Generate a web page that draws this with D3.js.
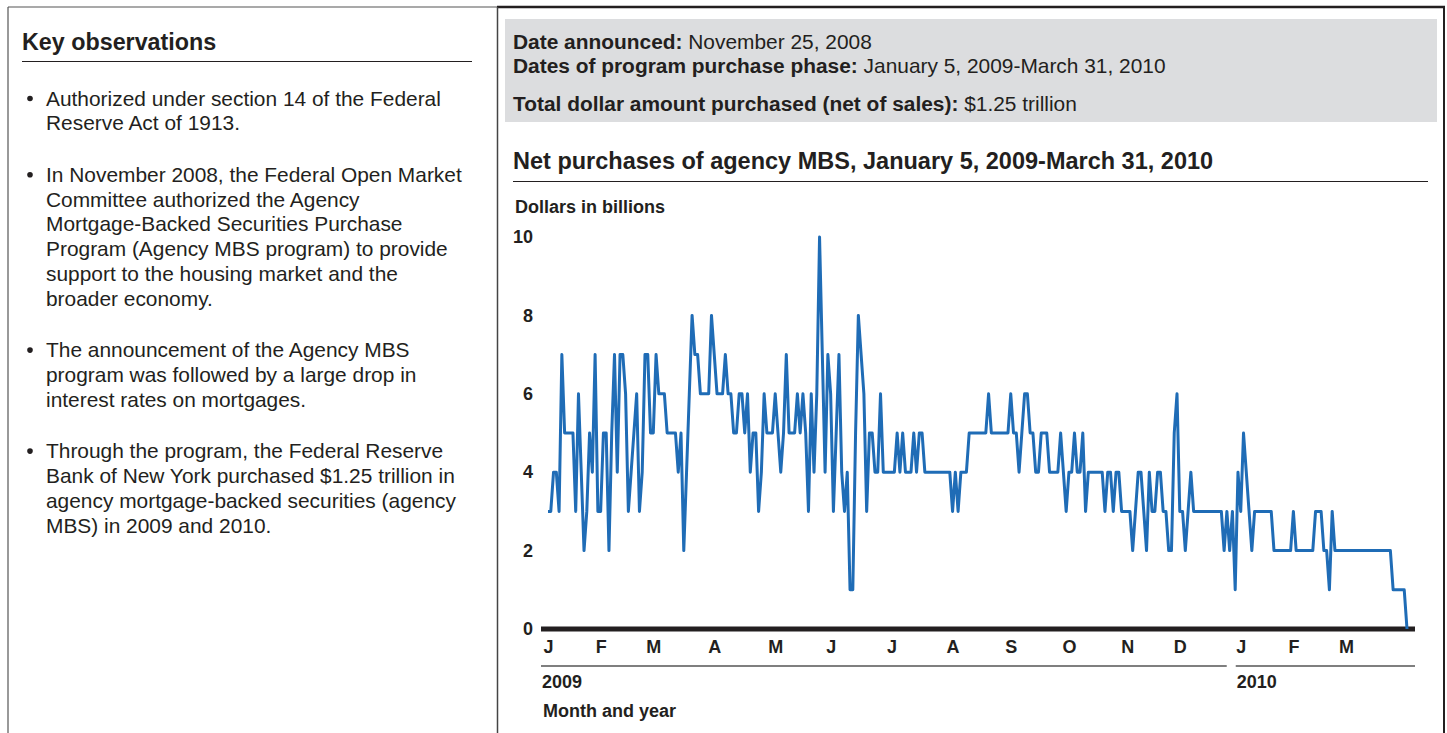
<!DOCTYPE html>
<html>
<head>
<meta charset="utf-8">
<script src="https://cdn.jsdelivr.net/npm/d3@7"></script>
<style>
  body { margin: 0; background: #fff; }
  svg text { font-family: "Liberation Sans", Arial, Helvetica, sans-serif; fill: #231f20; }
  .bold { font-weight: bold; }
</style>
</head>
<body>
<div id="chart"></div>
<script>
// net purchases, $ billions, one value per trading day
const jan09 = [3,3,4,4,3,7,5,5,5,5,3,6,4,2,3,5,4,7,3];
const feb09 = [3,5,5,2,5,7,4,7,7,6,3,4,5,6,3,4,7,7,5];
const mar09 = [5,7,6,6,6,5,5,5,5,4,5,2,4,6,8,7,7,6,6,6,6,8];
const apr09 = [7,6,6,6,7,6,6,5,5,6,6,5,6,4,5,5,3,4,6,5,5,5];
const may09 = [6,5,4,5,7,5,5,5,6,5,6,5,3,6,4,6,10,7,4,7];
const jun09 = [6,3,5,7,4,3,4,1,1,5,8,7,6,3,5,5,4,4,6,4,4,4];
const jul09 = [4,4,5,4,5,4,4,4,5,4,5,5,4,4,4,4,4,4,4,4,4,4];
const aug09 = [3,4,3,4,4,4,5,5,5,5,5,5,5,6,5,5,5,5,5,5,5];
const sep09 = [6,5,5,4,5,6,6,5,5,4,4,5,5,5,4,4,4,4,5,4,3];
const oct09 = [4,4,5,4,4,5,3,4,4,4,4,4,4,3,4,4,3,4,4,3,3];
const nov09 = [3,3,2,3,4,4,3,2,4,3,3,4,4,3,3,2,2,5,6];
const dec09 = [3,3,2,3,4,3,3,3,3,3,3,3,3,3,3,3,2,3,2,3,1,4];
const jan10 = [3,5,4,3,2,3,3,3,3,3,3,3,2,2,2,2,2,2,2];
const feb10 = [3,2,2,2,2,2,2,2,3,3,3,2,2,1,3,2,2,2,2];
const mar10 = [2,2,2,2,2,2,2,2,2,2,2,2,2,2,2,2,2,1,1,1,1,1,0];

// market holidays inside the purchase window
const holidays = ["2009-01-19","2009-02-16","2009-05-25","2009-07-03","2009-09-07",
  "2009-10-12","2009-11-11","2009-11-26","2009-12-25","2010-01-01","2010-01-18","2010-02-15"];

const monthLetters = ["J","F","M","A","M","J","J","A","S","O","N","D"];
const yTicks = [0, 2, 4, 6, 8, 10];
const years = ["2009", "2010"];

const bullets = [
  ["Authorized under section 14 of the Federal", "Reserve Act of 1913."],
  ["In November 2008, the Federal Open Market", "Committee authorized the Agency",
   "Mortgage-Backed Securities Purchase", "Program (Agency MBS program) to provide",
   "support to the housing market and the", "broader economy."],
  ["The announcement of the Agency MBS", "program was followed by a large drop in",
   "interest rates on mortgages."],
  ["Through the program, the Federal Reserve", "Bank of New York purchased $1.25 trillion in",
   "agency mortgage-backed securities (agency", "MBS) in 2009 and 2010."]
];

const width = 1447, height = 733;
const plot = { left: 548, right: 1407, top: 237, bottom: 629 };
const lineColor = "#1f6cb6";
const smallFont = "18px";

const values = [].concat(jan09, feb09, mar09, apr09, may09, jun09, jul09, aug09,
  sep09, oct09, nov09, dec09, jan10, feb10, mar10);

// trading days jan 5 2009 - mar 31 2010
const fmt = d3.timeFormat("%Y-%m-%d");
let days = d3.timeDays(new Date(2009, 0, 5), new Date(2010, 3, 1))
  .filter(d => d.getDay() !== 0 && d.getDay() !== 6 && !holidays.includes(fmt(d)));

let data = days.map((d, i) => ({ date: d, i: i, value: values[i] }));

let monthStarts = data.filter((d, i) => i === 0 || d.date.getMonth() !== data[i - 1].date.getMonth());

const svg = d3.select("#chart")
  .append("svg")
  .attr("width", width)
  .attr("height", height);

// frame
svg.append("line").attr("x1", 8).attr("x2", 497).attr("y1", 7).attr("y2", 7)
  .attr("stroke", "#555").attr("stroke-width", 1.2);
svg.append("line").attr("x1", 497).attr("x2", 1445).attr("y1", 7).attr("y2", 7)
  .attr("stroke", "#231f20").attr("stroke-width", 2.4);
svg.append("line").attr("x1", 8).attr("x2", 8).attr("y1", 7).attr("y2", height)
  .attr("stroke", "#555").attr("stroke-width", 1.2);
svg.append("line").attr("x1", 497.5).attr("x2", 497.5).attr("y1", 7).attr("y2", height)
  .attr("stroke", "#444").attr("stroke-width", 1.5);
svg.append("line").attr("x1", 1444).attr("x2", 1444).attr("y1", 6).attr("y2", height)
  .attr("stroke", "#231f20").attr("stroke-width", 2);

// left panel
svg.append("text").attr("class", "bold")
  .attr("x", 22).attr("y", 50)
  .style("font-size", "23.3px")
  .text("Key observations");
svg.append("line").attr("x1", 22).attr("x2", 472).attr("y1", 61.5).attr("y2", 61.5)
  .attr("stroke", "#231f20").attr("stroke-width", 1.2);

let by = 105.5;
bullets.forEach(lines => {
  svg.append("circle").attr("cx", 30).attr("cy", by - 7).attr("r", 2.8).attr("fill", "#231f20");
  lines.forEach((t, k) => {
    svg.append("text")
      .attr("x", 46).attr("y", by + k * 24.8)
      .style("font-size", "20.9px")
      .text(t);
  });
  by += lines.length * 24.8 + 26.6;
});

// header box
svg.append("rect").attr("x", 505).attr("y", 19).attr("width", 932).attr("height", 103)
  .attr("fill", "#dcdddf");

function labelLine(y, bold, normal) {
  const t = svg.append("text").attr("x", 513).attr("y", y).style("font-size", "20.9px");
  t.append("tspan").attr("class", "bold").text(bold);
  t.append("tspan").text(" " + normal);
}
labelLine(48.5, "Date announced:", "November 25, 2008");
labelLine(72.5, "Dates of program purchase phase:", "January 5, 2009-March 31, 2010");
labelLine(110.5, "Total dollar amount purchased (net of sales):", "$1.25 trillion");

svg.append("text").attr("class", "bold")
  .attr("x", 513).attr("y", 168.5)
  .style("font-size", "23.5px")
  .text("Net purchases of agency MBS, January 5, 2009-March 31, 2010");
svg.append("line").attr("x1", 513).attr("x2", 1428).attr("y1", 181.5).attr("y2", 181.5)
  .attr("stroke", "#231f20").attr("stroke-width", 1.2);

svg.append("text").attr("class", "bold")
  .attr("x", 515).attr("y", 212.5)
  .style("font-size", smallFont)
  .text("Dollars in billions");

// scales
const xScale = d3.scaleLinear()
  .domain([0, data.length - 1])
  .range([plot.left, plot.right]);

const yScale = d3.scaleLinear()
  .domain([0, 10])
  .range([plot.bottom, plot.top]);

const yAxis = d3.axisLeft(yScale).tickValues(yTicks).tickSize(0).tickPadding(0);
svg.append("g")
  .attr("class", "axis y-axis")
  .attr("transform", "translate(533,0)")
  .call(yAxis)
  .call(g => g.select(".domain").remove())
  .call(g => g.selectAll("text")
    .attr("class", "bold")
    .style("font-size", smallFont)
    .style("font-family", "'Liberation Sans', Arial, sans-serif")
    .attr("fill", "#231f20"));

const xAxis = d3.axisBottom(xScale)
  .tickValues(monthStarts.map(d => d.i))
  .tickFormat(i => monthLetters[data[i].date.getMonth()])
  .tickSize(0)
  .tickPadding(0);
svg.append("g")
  .attr("class", "axis x-axis")
  .attr("transform", "translate(0,640)")
  .call(xAxis)
  .call(g => g.select(".domain").remove())
  .call(g => g.selectAll("text")
    .attr("class", "bold")
    .style("font-size", smallFont)
    .style("font-family", "'Liberation Sans', Arial, sans-serif")
    .attr("fill", "#231f20"));

// year brackets
const jan10Start = monthStarts.find(d => d.date.getFullYear() === 2010).i;
const yearSpans = [
  { label: years[0], x1: 541, x2: xScale(jan10Start) - 14 },
  { label: years[1], x1: xScale(jan10Start) - 5, x2: 1415 }
];
svg.selectAll(".year-line")
  .data(yearSpans)
  .join("line")
  .attr("class", "year-line")
  .attr("x1", d => d.x1).attr("x2", d => d.x2)
  .attr("y1", 666).attr("y2", 666)
  .attr("stroke", "#555").attr("stroke-width", 1.5);
svg.selectAll(".year-label")
  .data(yearSpans)
  .join("text")
  .attr("class", "year-label bold")
  .attr("x", d => d.x1 + 1).attr("y", 688)
  .style("font-size", smallFont)
  .text(d => d.label);

svg.append("text").attr("class", "bold")
  .attr("x", 543).attr("y", 717)
  .style("font-size", smallFont)
  .text("Month and year");

// zero baseline
svg.append("line")
  .attr("x1", 541).attr("x2", 1415)
  .attr("y1", yScale(0)).attr("y2", yScale(0))
  .attr("stroke", "#231f20").attr("stroke-width", 5);

const line = d3.line()
  .x(d => xScale(d.i))
  .y(d => yScale(d.value));

svg.append("path")
  .datum(data)
  .attr("d", line)
  .attr("fill", "none")
  .attr("stroke", lineColor)
  .attr("stroke-width", 3)
  .attr("stroke-linejoin", "round");
</script>
</body>
</html>
